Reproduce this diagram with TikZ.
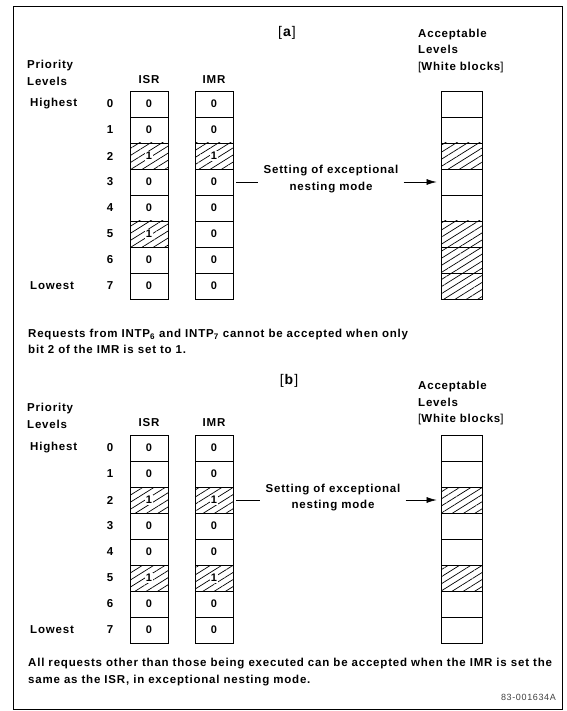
\documentclass[tikz,border=0pt]{standalone}
\usepackage{fontspec}
\setmainfont{Liberation Sans}[LetterSpace=7]
\usetikzlibrary{patterns.meta,arrows.meta}

\tikzset{
  txt/.style={font=\fontsize{11.5}{16.5}\selectfont\bfseries, inner sep=0pt, align=left},
  reg/.style={draw, line width=0.9pt, minimum width=38pt, minimum height=26pt, inner sep=0pt, font=\fontsize{11}{13}\selectfont\bfseries},
  acc/.style={draw, line width=0.9pt, minimum width=41pt, minimum height=26pt, inner sep=0pt},
  hatch/.style={pattern={Lines[angle=32, distance=6pt, line width=0.7pt]}},
  onebit/.style={fill=white, inner sep=0.8pt, font=\fontsize{11}{13}\selectfont\bfseries},
  bit0/.style={}, bit1/.style={hatch, label={[onebit]center:1}},
  acc0/.style={}, acc1/.style={hatch},
  conn/.style={line width=0.6pt},
}

\begin{document}
\begin{tikzpicture}[x=1pt, y=-1pt]
    \useasboundingbox (0,0) rectangle (566,711);
    \draw[line width=1pt] (13,7) rectangle (562,709);

    % [a]
    \node[txt, font=\fontsize{14}{16}\selectfont] (taga) at (287,33) {[\textbf{a}]};
    \node[txt, anchor=west] (prioa) at (27,73) {Priority\\Levels};
    \node[txt, anchor=west] (acchead) at (418,51) {Acceptable\\Levels\\{\mdseries[}White blocks{\mdseries]}};
    \node[txt] (isrlbla) at (149,80) {ISR};
    \node[txt] (imrlbla) at (214,80) {IMR};
    \node[txt, anchor=west] (higha) at (30,104) {Highest};
    \node[txt, anchor=west] (lowa) at (30,286) {Lowest};

    \foreach \r/\s/\m/\a in {0/0/0/0, 1/0/0/0, 2/1/1/1, 3/0/0/0, 4/0/0/0, 5/1/0/1, 6/0/0/1, 7/0/0/1} {
        \node[txt] (numa\r) at (110,104+26*\r) {\r};
        \node[reg, bit\s] (isra\r) at (149,104+26*\r) {\ifnum\s=0 0\fi};
        \node[reg, bit\m] (imra\r) at (214,104+26*\r) {\ifnum\m=0 0\fi};
        \node[acc, acc\a] (acca\r) at (461.5,104+26*\r) {};
    }

    \node[txt, align=center] (seta) at (331,179) {Setting of exceptional\\nesting mode};
    \draw[conn, shorten <=3pt, shorten >=5pt] (imra3.east) -- (imra3.east -| seta.west);
    \draw[conn, -{Latex[length=10pt, width=6pt]}, shorten <=5pt, shorten >=4pt] (seta.east |- acca3.west) -- (acca3.west);

    \node[txt, anchor=west] (capa) at (28,341.5) {Requests from INTP\textsubscript{6} and INTP\textsubscript{7} cannot be accepted when only\\bit 2 of the IMR is set to 1.};

    % [b]
    \node[txt, font=\fontsize{14}{16}\selectfont] (tagb) at (289,381) {[\textbf{b}]};
    \node[txt, anchor=west] (priob) at (27,416) {Priority\\Levels};
    \node[txt, anchor=west] (accheadb) at (418,403.5) {Acceptable\\Levels\\{\mdseries[}White blocks{\mdseries]}};
    \node[txt] (isrlblb) at (149,423) {ISR};
    \node[txt] (imrlblb) at (214,423) {IMR};
    \node[txt, anchor=west] (highb) at (30,448) {Highest};
    \node[txt, anchor=west] (lowb) at (30,630) {Lowest};

    \foreach \r/\s/\m/\a in {0/0/0/0, 1/0/0/0, 2/1/1/1, 3/0/0/0, 4/0/0/0, 5/1/1/1, 6/0/0/0, 7/0/0/0} {
        \node[txt] (numb\r) at (110,448+26*\r) {\r};
        \node[reg, bit\s] (isrb\r) at (149,448+26*\r) {\ifnum\s=0 0\fi};
        \node[reg, bit\m] (imrb\r) at (214,448+26*\r) {\ifnum\m=0 0\fi};
        \node[acc, acc\a] (accb\r) at (461.5,448+26*\r) {};
    }

    \node[txt, align=center] (setb) at (333,497.5) {Setting of exceptional\\nesting mode};
    \draw[conn, shorten <=3pt, shorten >=5pt] (imrb2.east) -- (imrb2.east -| setb.west);
    \draw[conn, -{Latex[length=10pt, width=6pt]}, shorten <=5pt, shorten >=4pt] (setb.east |- accb2.west) -- (accb2.west);

    \node[txt, anchor=west] (capb) at (28,672) {All requests other than those being executed can be accepted when the IMR is set the\\same as the ISR, in exceptional nesting mode.};
    \node[font=\fontsize{9}{10}\selectfont, text=black!75, inner sep=0pt, anchor=east] (figno) at (556,697) {83-001634A};
\end{tikzpicture}
\end{document}
